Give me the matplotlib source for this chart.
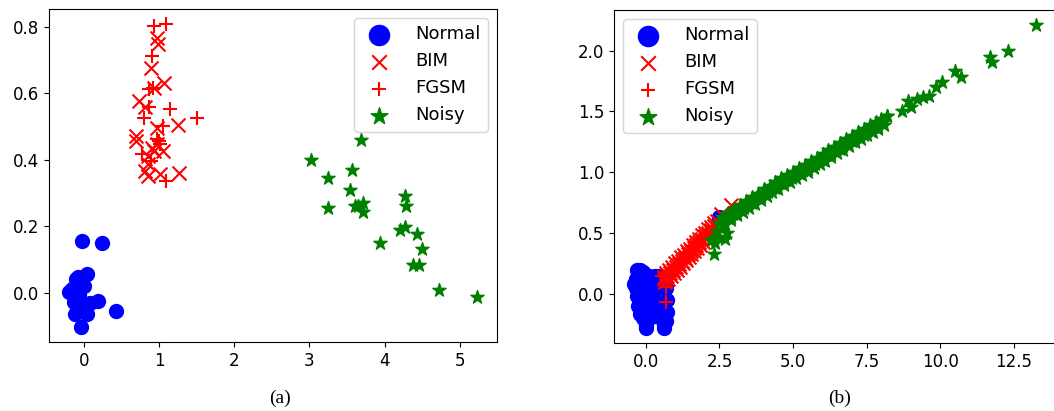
import matplotlib
matplotlib.use("Agg")
import matplotlib.pyplot as plt

# ---- panel (a) ----
a_normal_x = [-0.02, 0.25, 0.05, -0.08, -0.02, -0.15, -0.19, -0.13, -0.04, -0.11,
              0.05, 0.19, 0.09, 0.43, -0.04, -0.06, 0.0, -0.1]
a_normal_y = [0.155, 0.149, 0.055, 0.047, 0.027, 0.012, 0.002, -0.028, -0.038, -0.063,
              -0.063, -0.025, -0.03, -0.056, -0.103, -0.008, 0.02, 0.04]

a_bim_x = [0.98, 0.99, 0.9, 1.07, 0.93, 0.74, 0.82, 0.98, 1.25, 0.69, 0.7,
           0.91, 1.05, 0.98, 0.85, 0.85, 0.82, 0.85, 1.02, 1.27, 0.93]
a_bim_y = [0.766, 0.748, 0.676, 0.631, 0.616, 0.576, 0.558, 0.496, 0.506, 0.471, 0.456,
           0.436, 0.426, 0.446, 0.411, 0.386, 0.366, 0.351, 0.356, 0.361, 0.426]

a_fgsm_x = [0.94, 1.1, 0.91, 0.92, 0.87, 0.87, 1.15, 1.51, 0.8, 1.05, 0.97,
            1.02, 0.78, 0.89, 1.1, 1.0]
a_fgsm_y = [0.801, 0.808, 0.711, 0.616, 0.614, 0.558, 0.554, 0.526, 0.526, 0.501, 0.461,
            0.446, 0.416, 0.396, 0.336, 0.455]

a_noisy_x = [3.68, 3.02, 3.24, 3.56, 3.54, 3.24, 3.6, 3.71, 3.71, 4.27, 4.28,
             4.2, 4.27, 4.43, 3.94, 4.5, 4.38, 4.45, 4.72, 5.22, 3.65]
a_noisy_y = [0.459, 0.399, 0.346, 0.368, 0.309, 0.255, 0.262, 0.269, 0.242, 0.292, 0.262,
             0.187, 0.197, 0.177, 0.149, 0.131, 0.082, 0.082, 0.009, -0.013, 0.26]

# ---- panel (b) ----
b_normal_x = [-0.3, -0.2, -0.1, -0.35, -0.35, -0.3, -0.25, -0.2, -0.1, 0.0, 0.05,
              -0.15, -0.1, 0.0, 0.05, 0.1,
              0.3, 0.45, 0.6, 0.7, 0.72, 0.72, 0.7, 0.62, 0.5, 0.45, 0.35, 0.25,
              0.2, 0.55, 0.3, 2.5,
              -0.2, -0.25, -0.15, -0.05, 0.15, 0.4, 0.6, 0.55, -0.4, -0.28, 0.1,
              0.65, 0.0, 0.62]
b_normal_y = [0.2, 0.2, 0.18, 0.12, 0.05, -0.02, -0.1, -0.17, -0.2, -0.26, -0.22,
              0.1, 0.0, 0.1, -0.08, 0.15,
              0.15, 0.15, 0.13, 0.05, -0.05, -0.15, -0.22, -0.26, -0.2, -0.1, 0.0, -0.1,
              0.05, 0.0, -0.18, 0.63,
              0.1, 0.0, -0.08, -0.12, -0.02, 0.08, -0.08, -0.18, 0.08, 0.15, -0.18,
              0.1, -0.28, -0.28]

b_bim_x = [0.6, 0.7, 0.8, 0.9, 1.0, 1.1, 1.2, 1.3, 1.4, 1.5, 1.6, 1.7, 1.8, 1.9,
           2.0, 2.1, 2.2, 2.3, 2.4,
           0.65, 0.75, 0.85, 0.95, 1.05, 1.15, 1.25, 1.35, 1.45, 1.55, 1.65, 1.75,
           1.85, 1.95, 2.05, 2.15, 2.25,
           0.62, 0.72, 0.82, 0.92, 1.02, 1.12, 1.22, 1.32, 1.42, 1.52, 1.62, 1.72,
           1.82, 1.92, 2.02, 2.12, 2.22, 2.32,
           2.55, 2.9]
b_bim_y = [0.14, 0.17, 0.2, 0.22, 0.25, 0.27, 0.3, 0.32, 0.35, 0.37, 0.4, 0.43, 0.45, 0.48,
           0.5, 0.53, 0.55, 0.58, 0.6,
           0.1, 0.12, 0.15, 0.17, 0.2, 0.22, 0.25, 0.28, 0.3, 0.33, 0.35, 0.38,
           0.4, 0.43, 0.45, 0.48, 0.51,
           0.119, 0.145, 0.17, 0.196, 0.221, 0.247, 0.273, 0.298, 0.324, 0.349, 0.375,
           0.401, 0.426, 0.452, 0.477, 0.503, 0.529, 0.554,
           0.66, 0.73]

b_fgsm_x = [0.55, 0.69, 0.69, 0.75, 0.95, 1.15, 1.35, 1.55, 1.75, 1.95, 2.15, 2.35,
            0.85, 1.05, 1.25, 1.45, 1.65, 1.85, 2.05, 2.25]
b_fgsm_y = [0.15, 0.055, -0.07, 0.15, 0.2, 0.25, 0.31, 0.36, 0.41, 0.46, 0.51, 0.56,
            0.19, 0.24, 0.29, 0.34, 0.39, 0.44, 0.5, 0.55]

b_noisy_x = [2.2, 2.3, 2.4, 2.5, 2.6, 2.7, 2.8, 2.9, 3.0, 3.1, 3.2, 3.35, 3.5, 3.6,
             3.75, 3.9, 4.0, 4.15, 4.3, 4.4, 4.55, 4.7, 4.8, 4.95, 5.1, 5.2, 5.35,
             5.5, 5.6, 5.75, 5.9, 6.0, 6.15, 6.3, 6.45, 6.6, 6.7, 6.85, 7.0, 7.1,
             7.25, 7.4, 7.5, 7.65, 7.8, 7.9, 8.05, 8.2, 8.7, 8.9, 9.0, 9.2, 9.4,
             9.6, 9.85, 10.05, 10.5, 10.7, 11.7, 11.75, 12.3, 13.25,
             2.6, 2.8, 3.0, 3.2, 3.4, 3.6, 3.8, 4.0, 4.2, 4.4, 4.6, 4.8, 5.0, 5.2,
             5.4, 5.6, 5.8, 6.0, 6.2, 6.4, 6.6, 6.8, 7.0, 7.2, 7.4, 7.6, 7.8, 8.0, 8.2,
             2.7, 2.9, 3.1, 3.3, 3.5, 3.7, 3.9, 4.1, 4.3, 4.5, 4.7, 4.9, 5.1, 5.3,
             5.5, 5.7, 5.9, 6.1, 6.3, 6.5, 6.7, 6.9, 7.1, 7.3, 7.5, 7.7, 7.9, 8.1,
             2.65, 2.95, 3.25, 3.55, 3.85, 4.15, 4.45, 4.75, 5.05, 5.35, 5.65, 5.95,
             6.25, 6.55, 6.85, 7.15, 7.45, 7.75, 8.05,
             2.45, 2.75, 2.35]
b_noisy_y = [0.44, 0.33, 0.52, 0.58, 0.56, 0.45, 0.62, 0.63, 0.67, 0.66, 0.7, 0.71,
             0.75, 0.75, 0.79, 0.8, 0.83, 0.84, 0.87, 0.87, 0.91, 0.92, 0.95, 0.95,
             0.99, 0.99, 1.02, 1.03, 1.06, 1.07, 1.1, 1.1, 1.14, 1.15, 1.18, 1.19,
             1.22, 1.23, 1.26, 1.26, 1.3, 1.31, 1.34, 1.34, 1.38, 1.37, 1.41, 1.46,
             1.5, 1.59, 1.54, 1.6, 1.62, 1.63, 1.7, 1.74, 1.83, 1.78, 1.95, 1.91,
             2.0, 2.21,
             0.63, 0.665, 0.7, 0.73, 0.765, 0.795, 0.825, 0.86, 0.89, 0.92, 0.95, 0.975,
             1.005, 1.035, 1.06, 1.09, 1.12, 1.15, 1.18, 1.21, 1.24, 1.27, 1.3, 1.33,
             1.36, 1.39, 1.415, 1.44, 1.465,
             0.575, 0.61, 0.645, 0.675, 0.71, 0.74, 0.775, 0.805, 0.835, 0.865, 0.895,
             0.92, 0.95, 0.98, 1.005, 1.035, 1.065, 1.095, 1.125, 1.155, 1.185, 1.215,
             1.245, 1.275, 1.305, 1.335, 1.36, 1.39,
             0.605, 0.655, 0.705, 0.755, 0.8, 0.85, 0.89, 0.935, 0.98, 1.02, 1.065, 1.11,
             1.155, 1.2, 1.24, 1.29, 1.33, 1.37, 1.41,
             0.47, 0.5, 0.42]

labels = ["Normal", "BIM", "FGSM", "Noisy"]
styles = [("o", "blue"), ("x", "red"), ("+", "red"), ("*", "green")]
legend_sizes = [210, 110, 110, 160]

fig = plt.figure(figsize=(10.54, 4.11), dpi=100)
ax1 = fig.add_axes([0.0465, 0.168, 0.425, 0.810])
ax2 = fig.add_axes([0.5825, 0.1655, 0.4195, 0.810])

panels = [
    (ax1, [(a_normal_x, a_normal_y), (a_bim_x, a_bim_y), (a_fgsm_x, a_fgsm_y), (a_noisy_x, a_noisy_y)]),
    (ax2, [(b_normal_x, b_normal_y), (b_bim_x, b_bim_y), (b_fgsm_x, b_fgsm_y), (b_noisy_x, b_noisy_y)]),
]

for ax, series in panels:
    for (xs, ys), (m, c), lab in zip(series, styles, labels):
        ax.scatter(xs, ys, marker=m, c=c, s=100, label=lab)
    ax.tick_params(labelsize=12)

ax1.set_xticks([0, 1, 2, 3, 4, 5])
ax1.set_yticks([0.0, 0.2, 0.4, 0.6, 0.8])
ax2.set_xticks([0.0, 2.5, 5.0, 7.5, 10.0, 12.5])
ax2.set_yticks([0.0, 0.5, 1.0, 1.5, 2.0])

for ax, loc in [(ax1, "upper right"), (ax2, "upper left")]:
    leg = ax.legend(loc=loc, fontsize=13, handletextpad=1.0)
    for h, sz in zip(leg.legend_handles, legend_sizes):
        h.set_sizes([sz])

fig.text(0.266, 0.02, "(a)", family="Liberation Serif", fontsize=14, ha="center")
fig.text(0.797, 0.02, "(b)", family="Liberation Serif", fontsize=14, ha="center")

fig.savefig("out.png", dpi=100)
